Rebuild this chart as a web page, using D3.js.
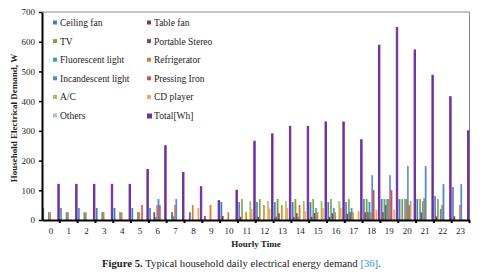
<!DOCTYPE html>
<meta charset="utf-8">
<style>
body { margin: 0; background: #fff; }
text { font-family: "Liberation Serif", "Times New Roman", serif; fill: #222; }
.axis text { font-size: 9px; }
.legend text { font-size: 9.5px; }
</style>
<svg width="480" height="276"></svg>
<script src="https://d3js.org/d3.v7.min.js"></script>
<script>

var hours = ["0","1","2","3","4","5","6","7","8","9","10","11","12","13","14","15","16","17","18","19","20","21","22","23"];
var yTicks = [0, 100, 200, 300, 400, 500, 600, 700];

var names = ["Ceiling fan", "Table fan", "TV", "Portable Stereo", "Fluorescent light", "Refrigerator",
             "Incandescent light", "Pressing Iron", "A/C", "CD player", "Others", "Total[Wh]"];

var ceilingFan   = [40,40,40,40,40,40,40,0,0,0,60,60,60,60,60,60,60,60,70,70,70,70,80,110];
var tableFan     = [0,0,0,0,0,0,0,0,0,13,13,10,10,10,10,10,10,20,25,25,0,0,11,11];
var tv           = [0,0,0,0,0,0,0,0,0,0,0,70,70,70,70,70,70,70,70,70,70,70,70,0];
var stereo       = [0,0,0,0,0,0,25,25,25,0,0,0,0,22,22,22,22,25,25,50,0,25,0,0];
var fluorescent  = [25,25,25,25,25,25,10,12,0,0,0,0,0,0,10,40,40,40,60,70,70,62,37,0];
var refrigerator = [25,25,25,25,25,25,50,50,50,50,25,25,50,50,50,25,25,25,25,70,70,73,50,50];
var incandescent = [0,0,0,0,0,0,70,70,0,0,0,0,0,0,0,0,0,0,150,150,180,180,120,120];
var pressingIron = [0,0,0,0,0,50,50,0,0,0,0,0,0,0,0,0,0,0,100,100,50,0,0,0];
var ac           = [0,0,0,0,0,0,0,0,0,0,0,62,62,62,62,62,62,0,0,0,62,0,0,0];
var cdPlayer     = [0,0,0,0,0,0,0,0,40,0,0,36,38,40,30,40,40,30,34,34,0,0,0,0];
var others       = [0,0,0,0,0,0,0,0,0,0,0,0,0,0,0,0,0,0,0,0,0,0,0,0];
var total        = [120,120,120,120,120,170,250,160,112,65,100,265,290,315,315,330,330,270,588,648,572,487,415,300];

var colors = ["#4a7ebb", "#943634", "#7ea03e", "#654d87", "#35a0b8", "#e47a2e",
              "#4f8ad4", "#d0504d", "#9bc25a", "#f9a45a", "#a9c0de", "#7030a0"];

var values = [ceilingFan, tableFan, tv, stereo, fluorescent, refrigerator,
              incandescent, pressingIron, ac, cdPlayer, others, total];

var svg = d3.select("svg");
var x0L = 42, x0R = 469.5, yTop = 12, yBot = 220;

var x0 = d3.scaleBand().domain(hours).range([x0L, x0R]);
var x1 = d3.scaleBand().domain(names).range([0, x0.bandwidth()]).paddingOuter(0.4);
var y = d3.scaleLinear().domain([0, 700]).range([yBot, yTop]);
var color = d3.scaleOrdinal().domain(names).range(colors);

// plot frame (top + right grey)
svg.append("path")
    .attr("d", "M" + x0L + "," + yTop + "H" + x0R + "V" + yBot)
    .attr("fill", "none").attr("stroke", "#888").attr("stroke-width", 1);

var groups = svg.append("g").selectAll("g")
    .data(hours)
    .enter().append("g")
      .attr("transform", function(d) { return "translate(" + x0(d) + ",0)"; });

groups.selectAll("rect")
    .data(function(d, i) { return names.map(function(n, j) { return {name: n, value: values[j][i]}; }); })
    .enter().append("rect")
      .attr("x", function(d) { return x1(d.name); })
      .attr("width", x1.bandwidth())
      .attr("y", function(d) { return y(d.value); })
      .attr("height", function(d) { return yBot - y(d.value); })
      .attr("fill", function(d) { return color(d.name); })
      .attr("stroke", function(d) { return color(d.name); })
      .attr("stroke-width", function(d) { return d.value && d.name === "Total[Wh]" ? 1 : 0.3; });

// y axis
var yAxis = svg.append("g")
    .attr("class", "axis")
    .attr("transform", "translate(" + x0L + ",0)")
    .call(d3.axisLeft(y).tickValues(yTicks).tickSize(3).tickSizeOuter(0).tickPadding(4));
yAxis.select(".domain").attr("stroke", "#000").attr("stroke-width", 2);
yAxis.selectAll(".tick line").attr("stroke", "#000").attr("stroke-width", 1.5);

// x axis
var xAxis = svg.append("g")
    .attr("class", "axis")
    .attr("transform", "translate(0," + yBot + ")")
    .call(d3.axisBottom(x0).tickSize(0).tickPadding(8));
xAxis.select(".domain").attr("stroke", "#000").attr("stroke-width", 2);

xAxis.selectAll(".sep")
    .data(hours.slice(1).concat(["end"]))
    .enter().append("line")
      .attr("x1", function(d) { return d === "end" ? x0R : x0(d); })
      .attr("x2", function(d) { return d === "end" ? x0R : x0(d); })
      .attr("y1", 0).attr("y2", 3)
      .attr("stroke", "#000").attr("stroke-width", 2);

// titles
svg.append("text")
    .attr("transform", "translate(17,118) rotate(-90)")
    .attr("text-anchor", "middle")
    .style("font-size", "9px").style("font-weight", "bold")
    .text("Household Electrical Demand, W");

svg.append("text")
    .attr("x", 256).attr("y", 247)
    .attr("text-anchor", "middle")
    .style("font-size", "9px").style("font-weight", "bold")
    .text("Hourly Time");

// legend
var legend = svg.append("g").attr("class", "legend")
  .selectAll("g")
  .data(names)
  .enter().append("g")
    .attr("transform", function(d, i) {
      return "translate(" + (i % 2 ? 147 : 53) + "," + (23 + Math.floor(i / 2) * 18.6) + ")";
    });

legend.append("rect")
    .attr("x", 0).attr("y", -2.5)
    .attr("width", function(d, i) { return i === 11 ? 5 : 4; })
    .attr("height", function(d, i) { return i === 11 ? 5 : 4; })
    .attr("fill", function(d) { return color(d); });

legend.append("text")
    .attr("x", 7).attr("y", 3)
    .text(function(d) { return d; });

// caption
var cap = svg.append("text")
    .attr("x", 102).attr("y", 267)
    .style("font-size", "10.7px");
cap.append("tspan").style("font-weight", "bold").text("Figure 5.");
cap.append("tspan").text(" Typical household daily electrical energy demand ");
cap.append("tspan").style("fill", "#3b8fd6").text("[36]");
cap.append("tspan").text(".");

</script>
